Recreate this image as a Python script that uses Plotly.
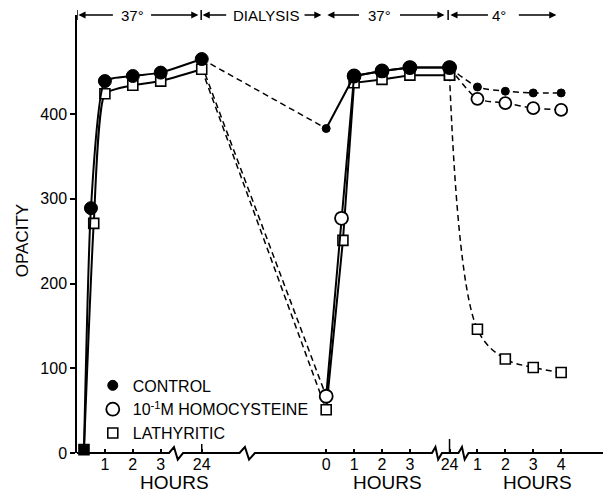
import plotly.graph_objects as go

# ---------------- data (hours, opacity) ----------------
# Phase 1: incubation at 37 deg
ctrl_p1_h = [0.25, 0.5, 1, 2, 3, 24]
ctrl_p1_v = [4, 289, 439, 445, 449, 465]
lath_p1_h = [0.25, 0.6, 1, 2, 3, 24]
lath_p1_v = [4, 271, 424, 434, 439, 453]
homo_p1_24 = 458          # start of the homocysteine dialysis line

# Phase 2: after dialysis, back at 37 deg
ctrl_p2_h = [0, 1, 2, 3, 24]
ctrl_p2_v = [383, 445, 451, 455, 455]
homo_p2_h = [0, 0.55, 1, 2, 3, 24]
homo_p2_v = [67, 277, 445, 451, 455, 455]
lath_p2_h = [0, 0.6, 1, 2, 3, 24]
lath_p2_v = [51, 251, 437, 441, 446, 446]

# Phase 3: cooled to 4 deg
cold_h = [1, 2, 3, 4]
ctrl_p3_v = [432, 427, 425, 425]
homo_p3_v = [418, 413, 407, 405]
lath_p3_v = [146, 111, 101, 95]

# tick labels
p1_ticks = ["1", "2", "3", "24"]
p2_ticks = ["0", "1", "2", "3", "24"]
p3_ticks = ["1", "2", "3", "4"]

# ---------------- broken time axis ----------------
P1_24 = 4.47     # axis position of "24 h" in phase 1
P2_0 = 8.93      # axis origin of phase 2
P2_24 = 13.35    # axis position of "24 h" in phase 2
P3_0 = 13.35     # axis origin of phase 3


def ax1(h):
    return [P1_24 if t == 24 else t for t in h]


def ax2(h):
    return [P2_24 if t == 24 else P2_0 + t for t in h]


def ax3(h):
    return [P3_0 + t for t in h]


FONT = "Liberation Sans"
BLACK = "black"
DASH = "6px,4px"

fig = go.Figure()


def line(x, y, dash=None, width=2.0, shape="linear", smoothing=1.0, mode="lines", marker=None):
    fig.add_trace(go.Scatter(
        x=x, y=y, mode=mode, showlegend=False, hoverinfo="skip",
        line=dict(color=BLACK, width=width, dash=dash, shape=shape,
                  smoothing=smoothing),
        marker=marker, cliponaxis=False))


def sq(s):
    return dict(symbol="square", size=s, color="white", line=dict(color=BLACK, width=1.6))


def oc(s):
    return dict(symbol="circle", size=s, color="white", line=dict(color=BLACK, width=1.8))


def fc(s):
    return dict(symbol="circle", size=s, color=BLACK, line=dict(color=BLACK, width=1))


# dialysis (dashed)
line([ax1([24])[0], ax2([0])[0]], [lath_p1_v[-1], lath_p2_v[0]], dash=DASH, width=1.5)
line([ax1([24])[0], ax2([0])[0]], [homo_p1_24, homo_p2_v[0]], dash=DASH, width=1.5)
line([ax1([24])[0], ax2([0])[0]], [ctrl_p1_v[-1], ctrl_p2_v[0]], dash=DASH, width=1.5)

# cooling (dashed)
line(ax2([24]) + ax3(cold_h), [lath_p2_v[-1]] + lath_p3_v, dash=DASH, width=1.5,
     shape="spline", smoothing=1.0, mode="lines+markers", marker=sq(10))
line(ax2([24]) + ax3(cold_h), [homo_p2_v[-1]] + homo_p3_v, dash=DASH, width=1.5,
     shape="spline", smoothing=0.6, mode="lines+markers", marker=oc(12))
line(ax2([24]) + ax3(cold_h), [ctrl_p2_v[-1]] + ctrl_p3_v, dash=DASH, width=1.5,
     shape="spline", smoothing=0.6, mode="lines+markers", marker=fc(8))

# phase 1 solid
line(ax1(lath_p1_h), lath_p1_v, shape="spline", smoothing=0.5, mode="lines+markers", marker=sq(10))
line(ax1(ctrl_p1_h), ctrl_p1_v, shape="spline", smoothing=0.5)
line(ax1(ctrl_p1_h[:1]), ctrl_p1_v[:1], mode="markers",
     marker=dict(symbol="square", size=9, color=BLACK, line=dict(color=BLACK, width=1)))
line(ax1(ctrl_p1_h[1:]), ctrl_p1_v[1:], mode="markers", marker=fc(13))

# phase 2 solid
line(ax2(lath_p2_h), lath_p2_v, mode="lines+markers", marker=sq(10))
line(ax2(homo_p2_h), homo_p2_v, mode="lines+markers", marker=oc(13))
line(ax2(ctrl_p2_h), ctrl_p2_v, mode="lines")
line(ax2(ctrl_p2_h[:1]), ctrl_p2_v[:1], mode="markers", marker=fc(8))
line(ax2(ctrl_p2_h[1:]), ctrl_p2_v[1:], mode="markers", marker=fc(13))

# legend entries
fig.add_trace(go.Scatter(x=[None], y=[None], mode="markers", name="CONTROL", marker=fc(10)))
fig.add_trace(go.Scatter(x=[None], y=[None], mode="markers",
                         name="10<sup>-1</sup>M HOMOCYSTEINE", marker=oc(13)))
fig.add_trace(go.Scatter(x=[None], y=[None], mode="markers", name="LATHYRITIC", marker=sq(10)))

# ---------------- axis decorations ----------------
XMAX = 18.85
YMAX = 517
PLOT_H = 438.0
h = 6 / PLOT_H


def zig(c, w):
    a = c - w / 2
    return (f" L{a:.3f},0 L{a + 0.35 * w:.3f},{h:.4f} L{a + 0.62 * w:.3f},{-h * 1.1:.4f}"
            f" L{a + w:.3f},0")


path = "M0,0" + zig(3.55, 0.5) + zig(6.1, 0.55) + zig(12.9, 0.36) + zig(13.85, 0.36) + f" L{XMAX},0"
shapes = [dict(type="path", xref="x", yref="paper", path=path,
               line=dict(color=BLACK, width=2))]
# tall ticks at the 24 h marks
shapes.append(dict(type="line", xref="x", yref="paper", x0=P1_24, x1=P1_24, y0=0, y1=9 / PLOT_H,
                   line=dict(color=BLACK, width=1.5)))
shapes.append(dict(type="line", xref="x", yref="paper", x0=P2_24, x1=P2_24, y0=0, y1=14 / PLOT_H,
                   line=dict(color=BLACK, width=1.5)))
# bars of the top phase brackets
for xb in [0, 4.45, 13.3]:
    shapes.append(dict(type="line", xref="x", yref="paper", x0=xb, x1=xb,
                       y0=1 - 5 / PLOT_H, y1=1 + 5 / PLOT_H, line=dict(color=BLACK, width=1.5)))

annotations = []
# top arrows: (head, tail)
arrows = [(0.05, 1.34), (4.35, 2.6), (4.5, 5.4), (8.76, 8.1),
          (8.97, 10.16), (13.17, 11.52), (13.38, 14.78), (17.18, 15.78)]
for head, tail in arrows:
    annotations.append(dict(x=head, y=YMAX, xref="x", yref="y", ax=tail, ay=YMAX,
                            axref="x", ayref="y", text="", showarrow=True,
                            arrowhead=2, arrowsize=1.1, arrowwidth=1.3, arrowcolor=BLACK))
for xt, txt in [(1.99, "37°"), (6.77, "DIALYSIS"), (10.84, "37°"), (15.14, "4°")]:
    annotations.append(dict(x=xt, y=YMAX, xref="x", yref="y", text=txt, showarrow=False,
                            font=dict(family=FONT, size=15, color=BLACK)))
for xt in [3.5, 11.11, 16.5]:
    annotations.append(dict(x=xt, y=-29 / PLOT_H, xref="x", yref="paper", text="HOURS",
                            showarrow=False, yanchor="middle", xanchor="center",
                            font=dict(family=FONT, size=19, color=BLACK)))
annotations.append(dict(x=-55 / 526, y=250, xref="paper", yref="y", text="OPACITY",
                        textangle=-90, showarrow=False, xanchor="center", yanchor="middle",
                        font=dict(family=FONT, size=17, color=BLACK)))

tickvals = [1, 2, 3, P1_24] + ax2([0, 1, 2, 3, 24]) + ax3([1, 2, 3, 4])
ticktext = p1_ticks + p2_ticks + p3_ticks

fig.update_layout(
    width=607, height=496,
    margin=dict(l=77, r=4, t=15, b=43),
    paper_bgcolor="white", plot_bgcolor="white",
    font=dict(family=FONT, color=BLACK),
    shapes=shapes, annotations=annotations,
    showlegend=True,
    legend=dict(x=0.03, y=0.193, xanchor="left", yanchor="top",
                font=dict(family=FONT, size=16, color=BLACK),
                bgcolor="rgba(0,0,0,0)", tracegroupgap=0, itemsizing="trace"),
    xaxis=dict(range=[0, XMAX], showgrid=False, zeroline=False, showline=False,
               tickmode="array", tickvals=tickvals, ticktext=ticktext,
               ticks="inside", ticklen=4, tickwidth=1.5, tickcolor=BLACK,
               tickfont=dict(family=FONT, size=16, color=BLACK)),
    yaxis=dict(range=[0, YMAX], showgrid=False, zeroline=False, showline=True,
               linecolor=BLACK, linewidth=1.5, tickmode="array",
               tickvals=[0, 100, 200, 300, 400], ticks="outside", ticklen=5,
               tickwidth=1.5, tickcolor=BLACK,
               tickfont=dict(family=FONT, size=16, color=BLACK)),
)

fig.write_html("out.html", config={"displayModeBar": False},
               post_script="document.body.style.margin='0';")
